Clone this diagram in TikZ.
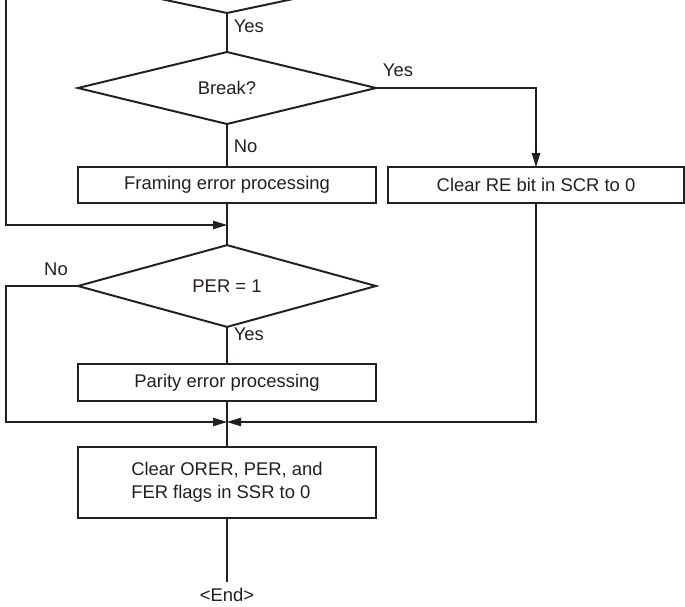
\documentclass[tikz,border=0pt]{standalone}
\usepackage{fontspec}
\setmainfont{Liberation Sans}
\usetikzlibrary{shapes.geometric,arrows.meta}
\definecolor{flowink}{HTML}{231F20}
\begin{document}
\begin{tikzpicture}[
    every node/.style={font=\fontsize{13.1}{16.3}\selectfont, text=flowink},
    decision/.style={draw=flowink, line width=1.4pt, diamond, inner sep=0pt, outer sep=0pt,
        minimum width=7.45cm, minimum height=1.8cm},
    procbox/.style={draw=flowink, line width=1.4pt, rectangle, inner sep=0pt, outer sep=0pt,
        minimum width=7.45cm, minimum height=0.9cm},
    flow/.style={draw=flowink, line width=0.75pt},
    flowarrow/.style={flow, -{Triangle[length=0.35cm, width=0.21cm]}}
]
    \clip (0,0) rectangle (17.125,-15.15);

    % decisions and processing steps
    \node[decision, minimum width=8.5cm] (rxerr) at (5.675,0.575) {};
    \node[decision] (brk) at (5.675,-2.2) {Break?};
    \node[procbox] (frame) at (5.675,-4.625) {Framing error processing};
    \node[procbox, minimum width=7.4cm] (clrre) at (13.4,-4.625) {Clear RE bit in SCR to 0};
    \node[decision] (per) at (5.675,-7.15) {PER = 1};
    \node[procbox, minimum height=0.925cm] (parity) at (5.675,-9.5625) {Parity error processing};
    \node[procbox, minimum height=1.775cm, align=left] (clrflag) at (5.675,-12.0625)
        {Clear ORER, PER, and\\FER flags in SSR to 0};
    \node[anchor=north, inner sep=0.15cm] (fin) at (5.675,-14.55) {<End>};

    % join points and rails
    \coordinate (join1) at (5.675,-5.625);
    \coordinate (join2) at (5.675,-10.55);
    \coordinate (rail1) at (0.15,0.575);
    \coordinate (rail2) at (0.15,-7.15);

    % connectors
    \draw[flow] (rxerr.south) -- (brk.north);
    \draw[flow] (brk.south) -- (frame.north);
    \draw[flow] (frame.south) -- (per.north);
    \draw[flow] (per.south) -- (parity.north);
    \draw[flow] (parity.south) -- (clrflag.north);
    \draw[flow] (clrflag.south) -- (fin.north);
    \draw[flowarrow] (rxerr.west) -- (rail1) |- (join1);
    \draw[flowarrow] (brk.east) -| (clrre.north);
    \draw[flowarrow] (per.west) -- (rail2) |- (join2);
    \draw[flowarrow] (clrre.south) |- (join2);

    % branch labels
    \node[anchor=west] (yes0) at (5.72,-0.65) {Yes};
    \node[anchor=west] (yes1) at (9.45,-1.75) {Yes};
    \node[anchor=west] (no1) at (5.72,-3.65) {No};
    \node (no2) at (1.4,-6.72) {No};
    \node[anchor=west] (yes2) at (5.72,-8.35) {Yes};
\end{tikzpicture}
\end{document}
